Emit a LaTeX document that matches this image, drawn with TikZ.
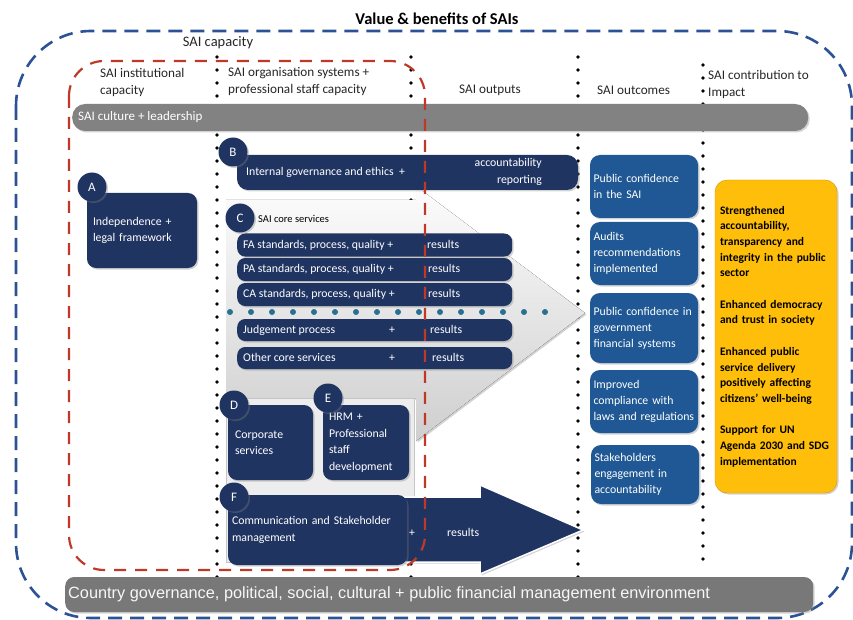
\documentclass[tikz,border=0pt]{standalone}
\usepackage{fontspec}
\setmainfont{Carlito}
\newfontfamily\arialfont{Liberation Sans}
\usetikzlibrary{shadows}

\definecolor{saiNavy}{RGB}{32,52,98}
\definecolor{saiBlue}{RGB}{31,88,148}
\definecolor{saiGray}{RGB}{130,130,130}
\definecolor{saiRed}{RGB}{190,58,40}
\definecolor{saiDash}{RGB}{44,82,150}
\definecolor{saiTeal}{RGB}{40,112,145}
\definecolor{saiYellow}{RGB}{255,190,10}

\tikzset{
  softshadow/.style={drop shadow={opacity=.35,shadow xshift=1.5pt,shadow yshift=-1.5pt}},
  navybox/.style={fill=saiNavy, text=white, rounded corners=9pt, align=left, inner ysep=0pt, softshadow,
    font=\fontsize{11.8}{16.5}\selectfont},
  navybar/.style={fill=saiNavy, rounded corners=8pt, inner sep=0pt, softshadow},
  bartext/.style={text=white, anchor=west, inner sep=0pt, text height=8.5pt, text depth=2.5pt,
    font=\fontsize{11.8}{14}\selectfont},
  letter/.style={circle, fill=saiNavy, text=white, minimum size=29pt, inner sep=0pt, softshadow,
    font=\fontsize{13}{13}\selectfont},
  outbox/.style={fill=saiBlue, text=white, rounded corners=10pt, align=left, text width=101pt,
    inner xsep=3.5pt, inner ysep=0pt, softshadow, font=\fontsize{11.8}{16}\selectfont},
  hdr/.style={align=left, text=black!85, anchor=west, inner sep=0pt, font=\fontsize{13.2}{17}\selectfont},
  graybar/.style={fill=saiGray, inner sep=0pt, softshadow},
  sepdots/.style={line width=3.8pt, line cap=round, dash pattern=on 0pt off 13pt}
}

\begin{document}
\begin{tikzpicture}[x=1pt, y=-1pt]
  \useasboundingbox (0,0) rectangle (853,620);

  \draw[saiDash, line width=2.6pt, dash pattern=on 14pt off 8pt, rounded corners=75pt] (16,31) rectangle (852,618);
  \node[font=\bfseries\fontsize{16.5}{18}\selectfont] (title) at (437,19) {Value \& benefits of SAIs};
  \node[text=black!85, font=\fontsize{14.5}{16}\selectfont] (capacity) at (218,43) {SAI capacity};

  \draw[sepdots] (217,57) -- (217,616);
  \draw[sepdots] (411,57) -- (411,616);
  \draw[sepdots] (578,57) -- (578,616);
  \draw[sepdots] (703,65) -- (703,570);

  \fill[top color=gray!2, bottom color=gray!38, softshadow]
    (226,200) -- (416,200) -- (416,186) -- (585,313) -- (416,441) -- (416,398) -- (226,398) -- cycle;
  \draw[gray!45, fill=gray!14] (226,398) rectangle (414,562);
  \draw[saiTeal, line width=6pt, line cap=round, dash pattern=on 0pt off 21pt] (230,312) -- (550,312);

  \node[hdr] (hInst) at (100,82) {SAI institutional\\capacity};
  \node[hdr] (hOrg) at (228,82) {SAI organisation systems +\\professional staff capacity};
  \node[hdr, anchor=center] (hOut) at (490,90) {SAI outputs};
  \node[hdr] (hOutc) at (597,90) {SAI outcomes};
  \node[hdr] (hImp) at (708,84.5) {SAI contribution to\\Impact};

  \node[graybar, rounded corners=13pt, minimum width=736, minimum height=27, anchor=west] (culture) at (72,117.5) {};
  \node[anchor=west, inner sep=0pt, text=white, font=\fontsize{13}{15}\selectfont] (cultureText) at (78,117.5) {SAI culture + leadership};

  \node[navybox, text width=98pt, inner xsep=6pt, minimum height=75] (indep) at (142,230.5) {Independence +\\legal framework};
  \node[letter] (cA) at (92,187) {A};

  \node[navybar, rounded corners=11pt, minimum width=341, minimum height=35] (gov) at (407.5,172.5) {};
  \node[bartext] (govText) at (246,173) {Internal governance and ethics\ \ +};
  \node[bartext, align=right, anchor=east, text height=, text depth=, font=\fontsize{11.8}{16.5}\selectfont] (govRes) at (542,172) {accountability\\reporting};
  \node[letter] (cB) at (233,152) {B};

  \node[letter] (cC) at (240,218) {C};
  \node[anchor=west, inner sep=0pt, font=\fontsize{10.5}{12}\selectfont] (coreLbl) at (258,219) {SAI core services};

  \node[navybar, minimum width=275, minimum height=23, anchor=west] (fa) at (237,245) {};
  \node[bartext] (faText) at (243,245) {FA standards, process, quality +};
  \node[bartext] (faRes) at (427,245) {results};
  \node[navybar, minimum width=275, minimum height=23, anchor=west] (pa) at (237,269.5) {};
  \node[bartext] (paText) at (243,269.5) {PA standards, process, quality +};
  \node[bartext] (paRes) at (428,269.5) {results};
  \node[navybar, minimum width=275, minimum height=23, anchor=west] (ca) at (237,294.5) {};
  \node[bartext] (caText) at (243,294.5) {CA standards, process, quality +};
  \node[bartext] (caRes) at (428,294.5) {results};
  \node[navybar, minimum width=275, minimum height=22, anchor=west] (jp) at (237,330) {};
  \node[bartext] (jpText) at (243,330) {Judgement process};
  \node[bartext] (jpPlus) at (389,330) {+};
  \node[bartext] (jpRes) at (430,330) {results};
  \node[navybar, minimum width=275, minimum height=22, anchor=west] (oc) at (237,358) {};
  \node[bartext] (ocText) at (243,358) {Other core services};
  \node[bartext] (ocPlus) at (389,358) {+};
  \node[bartext] (ocRes) at (432,358) {results};

  \node[navybox, text width=71pt, inner xsep=7pt, minimum height=75] (corp) at (270.5,442.5) {Corporate\\services};
  \node[letter] (cD) at (234,405) {D};
  \node[navybox, text width=74pt, inner xsep=6pt, minimum height=75] (hrm) at (366,442.5) {HRM +\\Professional\\staff\\development};
  \node[letter] (cE) at (328,398) {E};

  \draw[fill=saiNavy, draw=white, line width=1.5pt, softshadow]
    (395,497) -- (480,497) -- (480,485) -- (583,530) -- (480,574) -- (480,562) -- (395,562) -- cycle;
  \node[navybox, text width=171pt, inner xsep=4pt, minimum height=70] (comm) at (317.5,530) {Communication and Stakeholder\\management};
  \node[bartext] (commPlus) at (409,533) {+};
  \node[bartext] (commRes) at (447,533) {results};
  \node[letter] (cF) at (234,497) {F};

  \node[outbox, minimum height=63] (o1) at (644,186.5) {Public confidence\\in the SAI};
  \node[outbox, minimum height=63] (o2) at (644,253.5) {Audits\\recommendations\\implemented};
  \node[outbox, minimum height=70] (o3) at (644,328) {Public confidence in\\government\\financial systems};
  \node[outbox, minimum height=63] (o4) at (644,401.5) {Improved\\compliance with\\laws and regulations};
  \node[outbox, minimum height=59] (o5) at (645,474.5) {Stakeholders\\engagement in\\accountability};

  \node[fill=saiYellow, draw=saiYellow!80!black, rounded corners=12pt, minimum width=122, minimum height=313,
    text width=112pt, inner xsep=5pt, align=left, softshadow, font=\bfseries\fontsize{11.5}{15.7}\selectfont] (impact) at (776,336.5)
    {Strengthened\\accountability,\\transparency and\\integrity in the public\\sector\\[15.7pt]Enhanced democracy\\and trust in society\\[15.7pt]Enhanced public\\service delivery\\positively affecting\\citizens’ well-being\\[15.7pt]Support for UN\\Agenda 2030 and SDG\\implementation};

  \node[graybar, fill=saiGray!92!black, rounded corners=9pt, minimum width=748, minimum height=35, anchor=west] (env) at (65,594.5) {};
  \node[anchor=west, inner sep=0pt, text=white!94!gray, font=\arialfont\fontsize{16.3}{18}\selectfont] (envText) at (68,594) {Country governance, political, social, cultural + public financial management environment};

  \draw[saiRed, line width=2.2pt, dash pattern=on 12pt off 9pt, rounded corners=35pt] (69,61) rectangle (425,570);
\end{tikzpicture}
\end{document}
